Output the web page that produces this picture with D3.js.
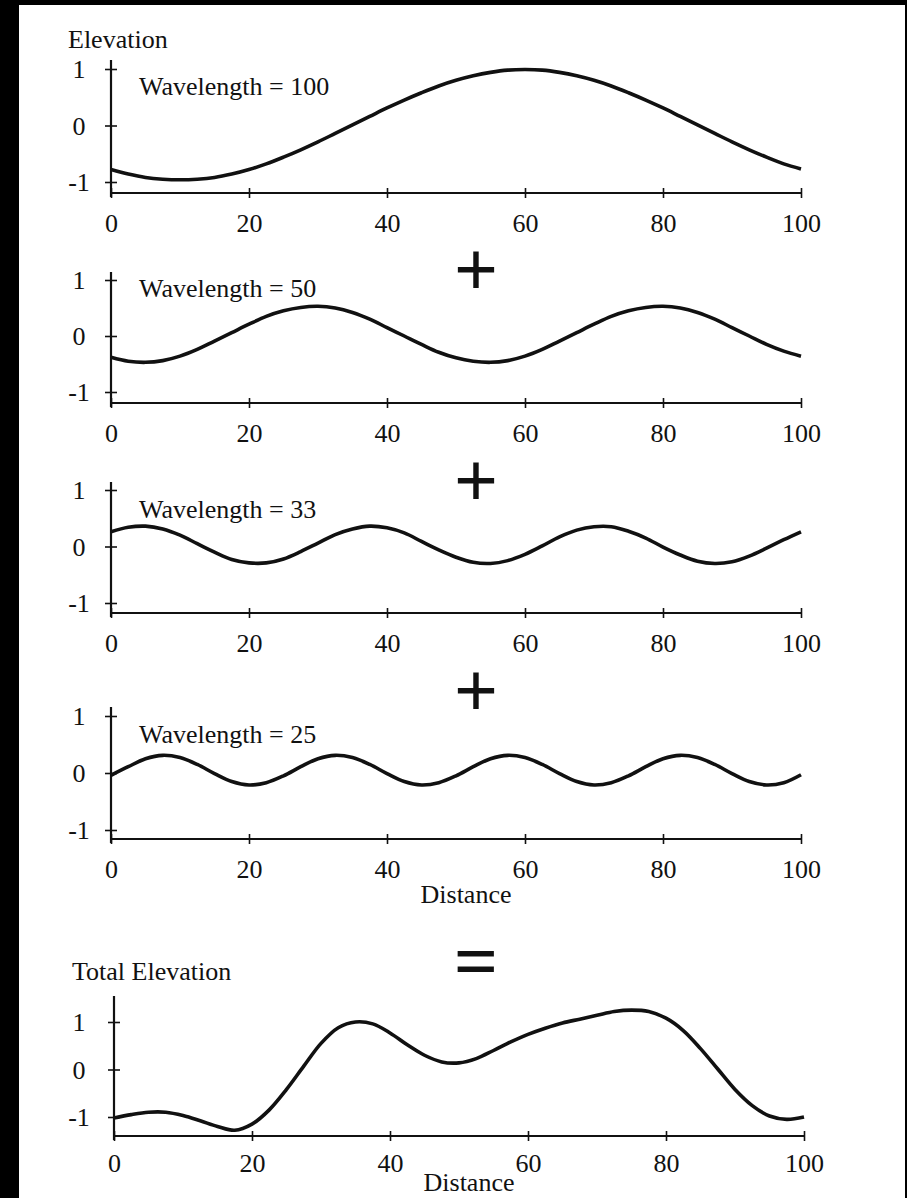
<!DOCTYPE html>
<html>
<head>
<meta charset="utf-8">
<script src="https://cdn.jsdelivr.net/npm/d3@7"></script>
<style>
  html, body { margin: 0; padding: 0; background: #000; }
  svg { display: block; }
  text { font-family: "Liberation Serif", "Times New Roman", serif; fill: #111; }
</style>
</head>
<body>
<script>
// ---------------- data ----------------
const distance = [0,2.5,5,7.5,10,12.5,15,17.5,20,22.5,25,27.5,30,32.5,35,37.5,40,42.5,45,47.5,50,
                  52.5,55,57.5,60,62.5,65,67.5,70,72.5,75,77.5,80,82.5,85,87.5,90,92.5,95,97.5,100];
const wavelengths = [100, 50, 33, 25];
const wave100 = [-0.78,-0.86,-0.92,-0.95,-0.96,-0.95,-0.92,-0.86,-0.78,-0.68,-0.56,-0.43,-0.29,-0.14,0.01,0.16,0.31,0.45,0.58,0.70,0.80,
                 0.88,0.94,0.98,0.99,0.98,0.94,0.88,0.80,0.70,0.58,0.45,0.31,0.16,0.01,-0.14,-0.29,-0.43,-0.56,-0.68,-0.77];
const wave50  = [-0.38,-0.45,-0.47,-0.44,-0.36,-0.24,-0.09,0.06,0.21,0.35,0.45,0.51,0.53,0.50,0.42,0.30,0.15,0.00,-0.15,-0.29,-0.39,
                 -0.45,-0.47,-0.44,-0.36,-0.24,-0.09,0.06,0.21,0.35,0.45,0.51,0.53,0.50,0.42,0.30,0.15,0.00,-0.15,-0.27,-0.36];
const wave33  = [0.26,0.34,0.36,0.31,0.20,0.05,-0.10,-0.23,-0.29,-0.29,-0.22,-0.09,0.06,0.21,0.31,0.36,0.33,0.24,0.09,-0.06,-0.19,
                 -0.28,-0.30,-0.25,-0.14,0.01,0.17,0.29,0.35,0.35,0.27,0.15,-0.01,-0.15,-0.26,-0.30,-0.27,-0.17,-0.03,0.12,0.26];
const wave25  = [-0.04,0.11,0.25,0.31,0.27,0.15,-0.01,-0.15,-0.21,-0.17,-0.05,0.11,0.25,0.31,0.27,0.15,-0.01,-0.15,-0.21,-0.17,-0.05,
                 0.11,0.25,0.31,0.27,0.15,-0.01,-0.15,-0.21,-0.17,-0.05,0.11,0.25,0.31,0.27,0.15,-0.01,-0.15,-0.21,-0.17,-0.03];
const totalElevation = [-1.02,-0.95,-0.90,-0.90,-0.97,-1.08,-1.20,-1.28,-1.15,-0.85,-0.42,0.07,0.55,0.88,1.00,0.96,0.77,0.52,0.30,0.16,0.14,
                        0.23,0.40,0.58,0.74,0.87,0.98,1.06,1.14,1.22,1.25,1.22,1.08,0.82,0.44,0.01,-0.42,-0.76,-0.98,-1.05,-1.00];
const xTicks = [0, 20, 40, 60, 80, 100];
const yTicks = [-1, 0, 1];
const operators = ["+", "+", "+", "="];

// ---------------- layout ----------------
const W = 907, H = 1198;
const svg = d3.select("body").append("svg").attr("width", W).attr("height", H);
svg.append("rect").attr("x", 19).attr("y", 5).attr("width", 886).attr("height", H - 5).attr("fill", "#fff");

const panels = [
  { values: wave100, label: "Wavelength = " + wavelengths[0], top: 69,  bot: 182,  axisY: 193,  axisTop: 60,  labY: 95,  x0: 111, x1: 801, pad: 16 },
  { values: wave50,  label: "Wavelength = " + wavelengths[1], top: 280, bot: 392,  axisY: 403,  axisTop: 272, labY: 297, x0: 111, x1: 801, pad: 16 },
  { values: wave33,  label: "Wavelength = " + wavelengths[2], top: 490, bot: 603,  axisY: 613,  axisTop: 482, labY: 518, x0: 111, x1: 801, pad: 16 },
  { values: wave25,  label: "Wavelength = " + wavelengths[3], top: 716, bot: 830,  axisY: 839,  axisTop: 707, labY: 743, x0: 111, x1: 801, pad: 16, xTitle: 64 },
  { values: totalElevation, label: null,                     top: 1022, bot: 1117, axisY: 1136, axisTop: 996, labY: 0,   x0: 114, x1: 804, pad: 13, xTitle: 55 }
];
const FS = 26;
const fmt = d => String(d);

panels.forEach((p, i) => {
  const x = d3.scaleLinear().domain([0, 100]).range([p.x0, p.x1]);
  const y = d3.scaleLinear().domain([-1, 1]).range([p.bot, p.top]);
  const g = svg.append("g");

  // axis lines
  g.append("line").attr("x1", p.x0).attr("x2", p.x1).attr("y1", p.axisY).attr("y2", p.axisY)
    .attr("stroke", "#111").attr("stroke-width", 2.2);
  g.append("line").attr("x1", p.x0).attr("x2", p.x0).attr("y1", p.axisTop).attr("y2", p.axisY + 4)
    .attr("stroke", "#111").attr("stroke-width", 2.2);

  // x axis ticks + labels
  const xa = g.append("g").attr("transform", `translate(0,${p.axisY - 5})`)
    .call(d3.axisBottom(x).tickValues(xTicks).tickSize(10).tickPadding(p.pad).tickFormat(fmt));
  xa.select(".domain").remove();
  xa.selectAll(".tick line").attr("stroke", "#111").attr("stroke-width", 1.6);
  xa.selectAll(".tick text").attr("font-size", FS).attr("font-family", "Liberation Serif").attr("fill", "#111");

  // y axis ticks + labels
  const ya = g.append("g").attr("transform", `translate(${p.x0 + 6},0)`)
    .call(d3.axisLeft(y).tickValues(yTicks).tickSize(12).tickFormat(fmt));
  ya.select(".domain").remove();
  ya.selectAll(".tick line").attr("stroke", "#111").attr("stroke-width", 1.6);
  ya.selectAll(".tick text").attr("font-size", FS).attr("font-family", "Liberation Serif").attr("fill", "#111")
    .attr("text-anchor", "middle").attr("x", 79 - (p.x0 + 6)).attr("dy", "0.33em");

  // curve
  const line = d3.line().x((d, k) => x(distance[k])).y(d => y(d)).curve(d3.curveCatmullRom);
  g.append("path").datum(p.values).attr("d", line)
    .attr("fill", "none").attr("stroke", "#111").attr("stroke-width", 3.6).attr("stroke-linejoin", "round");

  if (p.label) {
    g.append("text").attr("x", 139).attr("y", p.labY).attr("font-size", FS).text(p.label);
  }
  if (p.xTitle) {
    g.append("text").attr("x", x(50) + 10).attr("y", p.axisY + p.xTitle).attr("text-anchor", "middle")
      .attr("font-size", FS).text("Distance");
  }
});

// titles
svg.append("text").attr("x", 68).attr("y", 48).attr("font-size", FS).text("Elevation");
svg.append("text").attr("x", 72).attr("y", 980).attr("font-size", FS).text("Total Elevation");

// operators between panels
const opY = [269, 480, 690, 960];
operators.forEach((o, i) => {
  svg.append("text").attr("x", 476).attr("y", opY[i]).attr("text-anchor", "middle")
    .attr("dominant-baseline", "central")
    .attr("font-family", "DejaVu Sans").attr("font-weight", "bold").attr("font-size", 78)
    .attr("fill", "#000").text(o);
});
</script>
</body>
</html>
